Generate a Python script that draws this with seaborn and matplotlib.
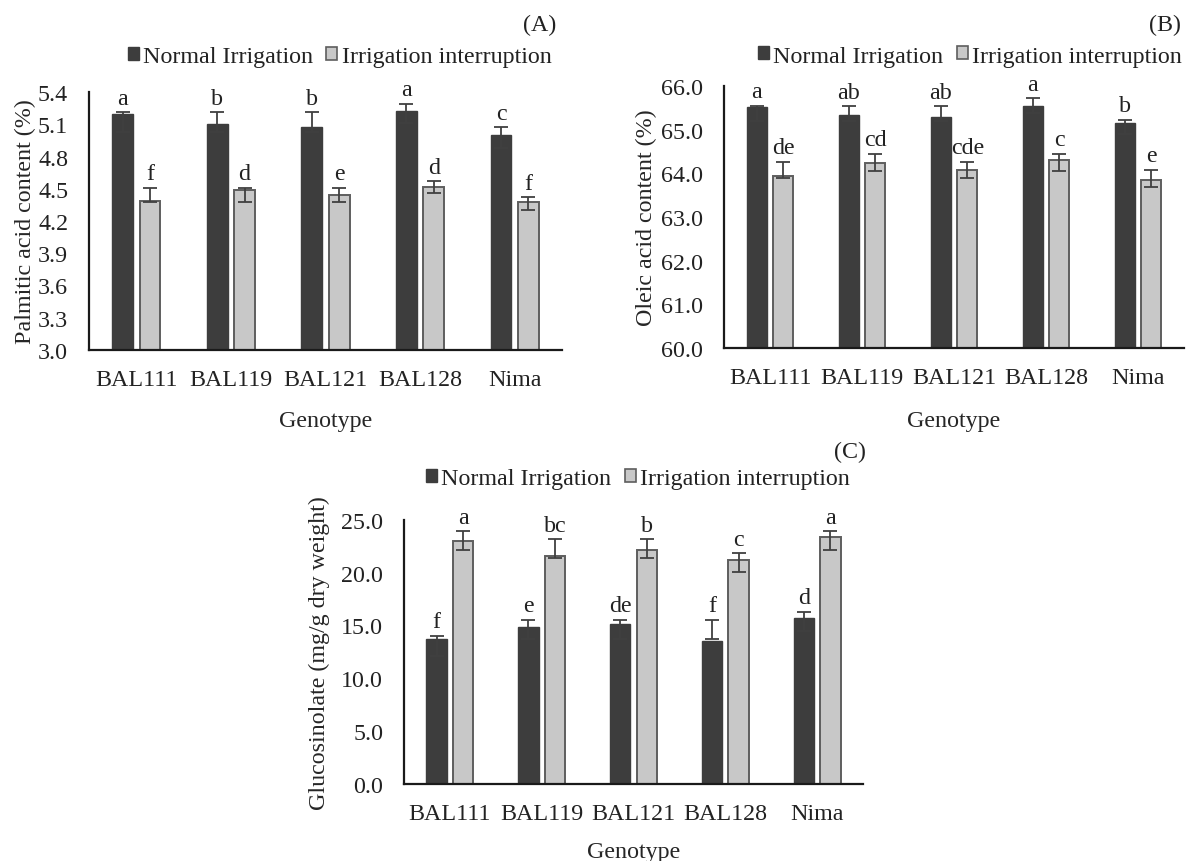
import numpy as np
import pandas as pd
import matplotlib
matplotlib.use("Agg")
import matplotlib.pyplot as plt
import seaborn as sns
from matplotlib.patches import Patch

# ---------------- data ----------------
genotypes = ["BAL111", "BAL119", "BAL121", "BAL128", "Nima"]
treatments = ["Normal Irrigation", "Irrigation interruption"]

# (A) Palmitic acid content (%)
palm_normal = [5.20, 5.10, 5.07, 5.22, 5.00]
palm_interr = [4.39, 4.49, 4.44, 4.52, 4.38]
palm_normal_lo = [5.03, 5.03, 5.03, 5.11, 4.88]
palm_normal_hi = [5.21, 5.21, 5.21, 5.29, 5.07]
palm_interr_lo = [4.38, 4.38, 4.38, 4.46, 4.30]
palm_interr_hi = [4.51, 4.51, 4.51, 4.57, 4.42]
palm_letters_normal = ["a", "b", "b", "a", "c"]
palm_letters_interr = ["f", "d", "e", "d", "f"]

# (B) Oleic acid content (%)
oleic_normal = [65.52, 65.34, 65.30, 65.55, 65.15]
oleic_interr = [63.93, 64.25, 64.09, 64.31, 63.86]
oleic_normal_lo = [65.20, 65.20, 65.20, 65.39, 64.91]
oleic_normal_hi = [65.55, 65.54, 65.54, 65.72, 65.23]
oleic_interr_lo = [63.89, 64.06, 63.89, 64.06, 63.70]
oleic_interr_hi = [64.27, 64.45, 64.27, 64.45, 64.08]
oleic_letters_normal = ["a", "ab", "ab", "a", "b"]
oleic_letters_interr = ["de", "cd", "cde", "c", "e"]

# (C) Glucosinolate (mg/g dry weight)
gluc_normal = [13.73, 14.83, 15.15, 13.51, 15.68]
gluc_interr = [23.02, 21.60, 22.17, 21.19, 23.36]
gluc_normal_lo = [12.15, 13.67, 13.67, 13.67, 14.45]
gluc_normal_hi = [14.04, 15.52, 15.52, 15.52, 16.28]
gluc_interr_lo = [22.10, 21.35, 21.35, 20.03, 22.10]
gluc_interr_hi = [23.93, 23.17, 23.17, 21.85, 23.93]
gluc_letters_normal = ["f", "e", "de", "f", "d"]
gluc_letters_interr = ["a", "bc", "b", "c", "a"]

# ---------------- style ----------------
sns.set_theme(style="white")
plt.rcParams["font.family"] = ["Liberation Serif", "DejaVu Serif"]
plt.rcParams["text.color"] = "#222222"
FS = 17.3
DARK = "#3d3d3d"
LIGHT = "#c8c8c8"
LIGHT_EDGE = "#5e5e5e"
ERR = "#404040"

fig = plt.figure(figsize=(11.87, 8.62), dpi=100)


def panel(rect, normal, interr, nlo, nhi, ilo, ihi, let_n, let_i,
          ylim, yticks, ylabel, ylabel_x, xlabel_y, leg_center, tag, tag_pos):
    ax = fig.add_axes(rect)
    df = pd.DataFrame({
        "Genotype": genotypes * 2,
        "Treatment": [treatments[0]] * len(genotypes) + [treatments[1]] * len(genotypes),
        "value": list(normal) + list(interr),
    })
    sns.barplot(data=df, x="Genotype", y="value", hue="Treatment",
                order=genotypes, hue_order=treatments,
                palette=[DARK, LIGHT], saturation=1, width=0.58, gap=0.24,
                errorbar=None, legend=False, ax=ax)
    conts = ax.containers
    for bar in conts[0]:
        bar.set_edgecolor(DARK)
        bar.set_linewidth(1.0)
    for bar in conts[1]:
        bar.set_edgecolor(LIGHT_EDGE)
        bar.set_linewidth(1.4)
    for cont, lo, hi, letters in ((conts[0], nlo, nhi, let_n), (conts[1], ilo, ihi, let_i)):
        xs = np.array([b.get_x() + b.get_width() / 2 for b in cont])
        lo = np.asarray(lo)
        hi = np.asarray(hi)
        mid = (lo + hi) / 2
        ax.errorbar(xs, mid, yerr=(hi - lo) / 2, fmt="none", ecolor=ERR,
                    elinewidth=1.3, capsize=4.7, capthick=1.3, zorder=5)
        heights = np.array([b.get_height() for b in cont])
        tops = np.maximum(heights, hi)
        for x, t, s in zip(xs, tops, letters):
            ax.annotate(s, (x, t), xytext=(0, 2.5), textcoords="offset points",
                        ha="center", va="bottom", fontsize=FS, color="#222222",
                        annotation_clip=False)
    ax.set_ylim(*ylim)
    ax.set_yticks(yticks)
    ax.set_yticklabels([f"{v:.1f}" for v in yticks])
    ax.set_xlim(-0.5, len(genotypes) - 0.5)
    ax.tick_params(axis="both", length=0, labelsize=FS, colors="#222222")
    ax.tick_params(axis="y", pad=15)
    ax.tick_params(axis="x", pad=14)
    for s in ("top", "right"):
        ax.spines[s].set_visible(False)
    for s in ("left", "bottom"):
        ax.spines[s].set_color("#1a1a1a")
        ax.spines[s].set_linewidth(1.6)
    ax.set_ylabel(ylabel, fontsize=FS)
    ax.yaxis.set_label_coords(ylabel_x, 0.5)
    ax.set_xlabel("Genotype", fontsize=FS)
    ax.xaxis.set_label_coords(0.5, xlabel_y)
    handles = [Patch(facecolor=DARK, edgecolor=DARK),
               Patch(facecolor=LIGHT, edgecolor=LIGHT_EDGE, linewidth=1.2)]
    ax.legend(handles, treatments, loc="center", bbox_to_anchor=leg_center,
              bbox_transform=fig.transFigure, ncol=2, frameon=False,
              fontsize=FS, handlelength=0.46, handleheight=0.46,
              handletextpad=0.18, columnspacing=0.55, borderpad=0)
    fig.text(tag_pos[0], tag_pos[1], tag, ha="right", va="center", fontsize=FS,
             color="#222222")
    return ax


panel([89 / 1187, 1 - 351 / 862, 473 / 1187, 258 / 862],
      palm_normal, palm_interr, palm_normal_lo, palm_normal_hi,
      palm_interr_lo, palm_interr_hi, palm_letters_normal, palm_letters_interr,
      (3.0, 5.4), np.round(np.arange(3.0, 5.41, 0.3), 1),
      "Palmitic acid content (%)", -0.111, -0.232, (339.5 / 1187, 1 - 58 / 862),
      "(A)", (556 / 1187, 1 - 25 / 862))

panel([724 / 1187, 1 - 348.7 / 862, 460 / 1187, 261.4 / 862],
      oleic_normal, oleic_interr, oleic_normal_lo, oleic_normal_hi,
      oleic_interr_lo, oleic_interr_hi, oleic_letters_normal, oleic_letters_interr,
      (60.0, 66.0), np.arange(60.0, 66.1, 1.0),
      "Oleic acid content (%)", -0.145, -0.239, (970 / 1187, 1 - 57 / 862),
      "(B)", (1181 / 1187, 1 - 25 / 862))

panel([404 / 1187, 1 - 785 / 862, 459 / 1187, 264.3 / 862],
      gluc_normal, gluc_interr, gluc_normal_lo, gluc_normal_hi,
      gluc_interr_lo, gluc_interr_hi, gluc_letters_normal, gluc_letters_interr,
      (0.0, 25.0), np.arange(0.0, 25.1, 5.0),
      "Glucosinolate (mg/g dry weight)", -0.162, -0.215, (638 / 1187, 1 - 480 / 862),
      "(C)", (866 / 1187, 1 - 452 / 862))

fig.savefig("out.png", dpi=100)
